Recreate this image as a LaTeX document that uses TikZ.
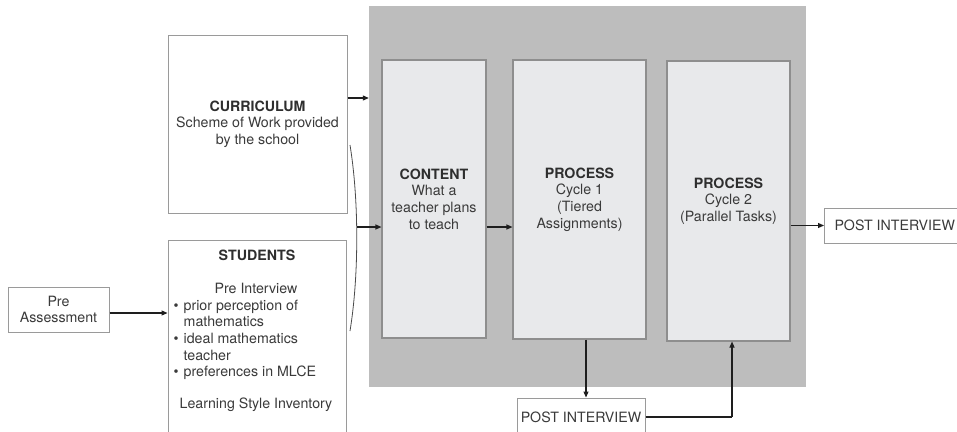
\documentclass[tikz,border=0pt]{standalone}
\usepackage{fontspec}
\setmainfont{TeX Gyre Heros}
\usetikzlibrary{arrows.meta}

\definecolor{framegray}{HTML}{BDBDBD}
\definecolor{stagefill}{HTML}{E8E9EB}
\definecolor{stageline}{HTML}{8E8E8E}
\definecolor{boxline}{HTML}{9A9A9A}
\definecolor{textcol}{HTML}{3A3A3A}
\definecolor{headcol}{HTML}{2E2E2E}
\definecolor{arrowcol}{HTML}{1E1E1E}

\tikzset{
  txt/.style={font=\fontsize{14.2}{16.7}\selectfont, text=textcol, align=center, inner sep=0pt},
  whitebox/.style={txt, draw=boxline, fill=white, line width=1pt},
  stagebox/.style={txt, draw=stageline, fill=stagefill, line width=1.1pt},
  arr/.style={draw=arrowcol, line width=1.1pt, -{Triangle[length=6pt,width=5pt]}},
  link/.style={draw=arrowcol, line width=1.1pt},
  bracecurve/.style={draw=arrowcol!80, line width=0.8pt},
}
\newcommand{\hd}[1]{{\bfseries\color{headcol}#1}}

\begin{document}
\begin{tikzpicture}[x=1pt,y=-1pt]
\useasboundingbox (0,0) rectangle (957,431);
\clip (0,0) rectangle (957,431);

% shaded teaching frame
\node[fill=framegray, minimum width=437pt, minimum height=381pt, inner sep=0pt] (frame) at (587.5,196.5) {};

% inputs on the left
\node[whitebox, minimum width=179pt, minimum height=178pt] (curr) at (257.5,124)
  {\hd{CURRICULUM}\\Scheme of Work provided\\by the school};
\node[whitebox, minimum width=178pt, minimum height=205pt] (students) at (257,342.5) {};
\node[txt] (stuHead) at (257,255) {\hd{STUDENTS}};
\node[txt] (stuPre) at (256,288) {Pre Interview};
\node[txt, anchor=base west, align=left] (stuList) at (173.5,310)
  {\begin{tabular}[t]{@{}l@{\hspace{5pt}}l@{}}
   \textbullet & prior perception of\\
               & mathematics\\
   \textbullet & ideal mathematics\\
               & teacher\\
   \textbullet & preferences in MLCE
   \end{tabular}};
\node[txt] (stuLSI) at (256,405) {Learning Style Inventory};

\node[whitebox, minimum width=101pt, minimum height=45pt] (preA) at (58.5,309.5)
  {Pre\\Assessment};

% stages inside the frame
\node[stagebox, minimum width=104pt, minimum height=278pt] (content) at (434,199)
  {\hd{CONTENT}\\What a\\teacher plans\\to teach};
\node[stagebox, minimum width=133pt, minimum height=279pt] (p1) at (579.5,199.5)
  {\hd{PROCESS}\\Cycle 1\\(Tiered\\Assignments)};
\node[stagebox, minimum width=123pt, minimum height=280pt] (p2) at (728.5,201)
  {\hd{PROCESS}\\Cycle 2\\(Parallel Tasks)};

% interviews
\node[whitebox, anchor=west, minimum height=35pt, inner xsep=10pt] (postR) at (824,225.5)
  {POST INTERVIEW};
\node[whitebox, minimum width=128pt, minimum height=38pt] (postB) at (581,417)
  {POST INTERVIEW};

% connectors
\draw[arr] ([yshift=-3.5pt]preA.east) -- ([yshift=-3.5pt]preA.east -| students.west);
\draw[arr] ([yshift=26pt]curr.east) -- ([yshift=26pt]curr.east -| frame.west);

\coordinate (brTop) at (350,145);
\coordinate (brBot) at (350,331);
\coordinate (brMid) at (357,227);
\draw[bracecurve] (brTop) .. controls (359,200) and (359,276) .. (brBot);
\draw[arr] (brMid) -- (brMid -| content.west);

\draw[arr] ([yshift=-28pt]content.east) -- ([yshift=-28pt]content.east -| p1.west);
\draw[arr] (p2.east |- postR.west) -- (postR.west);
\draw[arr] ([xshift=6.5pt]p1.south) -- ([xshift=6.5pt]p1.south |- postB.north);
\coordinate (turn) at ([xshift=3.5pt]p2.south |- postB.east);
\draw[link] (postB.east) -- (turn);
\draw[arr] (turn) -- ([xshift=3.5pt]p2.south);

\end{tikzpicture}
\end{document}
